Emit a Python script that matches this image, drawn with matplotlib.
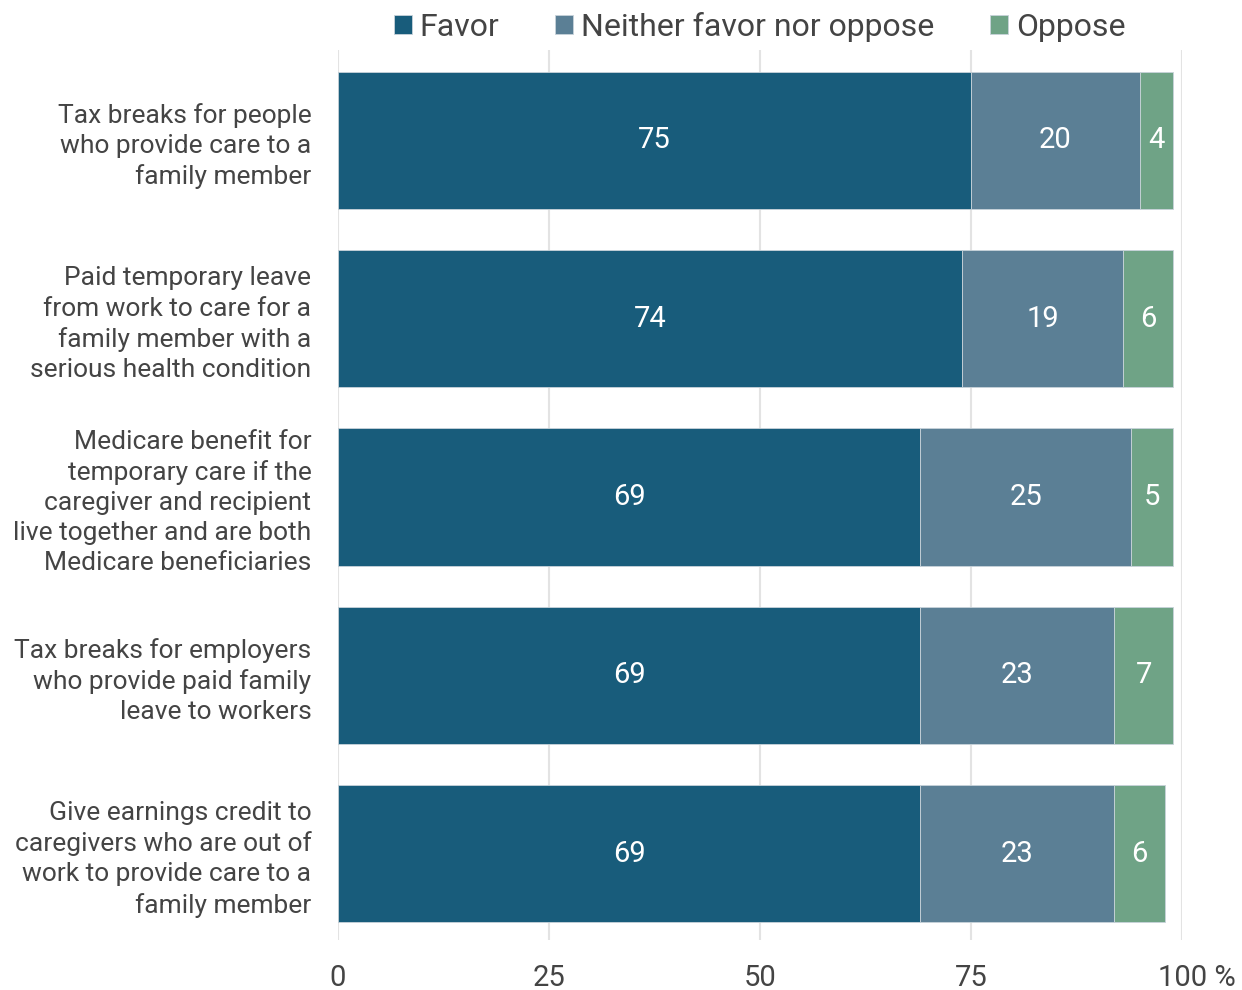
import matplotlib.pyplot as plt
import matplotlib.transforms as mtransforms
import numpy as np

plt.rcParams['font.family'] = ['Roboto', 'DejaVu Sans']

# survey items, top to bottom
items = [
    "Tax breaks for people\nwho provide care to a\nfamily member",
    "Paid temporary leave\nfrom work to care for a\nfamily member with a\nserious health condition",
    "Medicare benefit for\ntemporary care if the\ncaregiver and recipient\nlive together and are both\nMedicare beneficiaries",
    "Tax breaks for employers\nwho provide paid family\nleave to workers",
    "Give earnings credit to\ncaregivers who are out of\nwork to provide care to a\nfamily member",
]
favor = [75, 74, 69, 69, 69]
neither = [20, 19, 25, 23, 23]
oppose = [4, 6, 5, 7, 6]

series = ["Favor", "Neither favor nor oppose", "Oppose"]
colors = ["#185c7b", "#5b7f95", "#6fa386"]
ticks = [0, 25, 50, 75, 100]
tick_labels = ["0", "25", "50", "75", "100 %"]

text_color = "#444444"

fig = plt.figure(figsize=(12.42, 9.9), dpi=100)
ax = fig.add_axes([0.272, 0.0505, 0.6795, 0.899])

y = np.arange(len(items))
left = np.zeros(len(items))
for name, vals, col in zip(series, [favor, neither, oppose], colors):
    bars = ax.barh(y, vals, left=left, height=0.77, color=col, label=name,
                   edgecolor="#c8d3da", linewidth=0.6, zorder=2)
    ax.bar_label(bars, labels=[str(v) for v in vals], label_type="center",
                 color="white", fontsize=21)
    left += np.array(vals)

ax.set_xlim(0, 100)
ax.set_ylim(4.485, -0.507)
ax.set_yticks(y)
ax.set_yticklabels(items, fontsize=19, color=text_color, linespacing=1.32)
ax.set_xticks(ticks)
ax.set_xticklabels(tick_labels, fontsize=21, color=text_color)
ax.tick_params(axis="both", length=0)
ax.tick_params(axis="x", pad=17.5)
ax.tick_params(axis="y", pad=19)
ax.grid(axis="x", color="#e3e3e3", linewidth=1.5, zorder=0)
for s in ax.spines.values():
    s.set_visible(False)

# keep the number of the last tick centred on its gridline, "%" hanging right
last = ax.get_xticklabels()[-1]
last.set_transform(last.get_transform() +
                   mtransforms.ScaledTranslation(0.15, 0, fig.dpi_scale_trans))

ax.legend(loc="center", bbox_to_anchor=(0.5, 1.026), ncol=3,
          frameon=False, fontsize=23, labelcolor=text_color,
          handlelength=0.56, handleheight=0.56, handletextpad=0.25,
          columnspacing=1.75, borderaxespad=0, borderpad=0)

fig.savefig("out.png", dpi=100)
